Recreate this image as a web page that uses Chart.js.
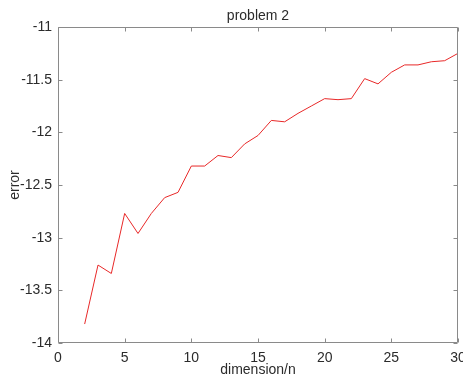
<!DOCTYPE html>
<html>
<head>
<meta charset="utf-8">
<script src="https://cdn.jsdelivr.net/npm/chart.js@4/dist/chart.umd.min.js"></script>
<style>
html,body{margin:0;padding:0;background:#fff;}
#wrap{width:463px;height:379px;position:relative;}
</style>
</head>
<body>
<div id="wrap"><canvas id="c" width="463" height="379"></canvas></div>
<script>
const dimensions = [2,3,4,5,6,7,8,9,10,11,12,13,14,15,16,17,18,19,20,21,22,23,24,25,26,27,28,29,30];
const errors = [-13.82,-13.26,-13.34,-12.77,-12.96,-12.77,-12.62,-12.57,-12.32,-12.32,-12.22,-12.24,-12.11,-12.03,-11.887,-11.90,-11.82,-11.75,-11.68,-11.69,-11.68,-11.49,-11.54,-11.43,-11.36,-11.36,-11.33,-11.32,-11.25];
const xTicks = [0,5,10,15,20,25,30];
const yTicks = [-14,-13.5,-13,-12.5,-12,-11.5,-11];
const yTickLabels = ['-14','-13.5','-13','-12.5','-12','-11.5','-11'];
const titleText = 'problem 2';
const xLabel = 'dimension/n';
const yLabel = 'error';

const AXIS = '#8a8a8a';
const TEXT = '#2b2b2b';
const FONT = "'Liberation Sans', Arial, Helvetica, sans-serif";

const boxPlugin = {
  id: 'box',
  afterDatasetsDraw(chart) {
    const {ctx, chartArea: a, scales: {x, y}} = chart;
    ctx.save();
    ctx.strokeStyle = AXIS;
    ctx.lineWidth = 1;
    ctx.beginPath();
    const L = Math.round(a.left) + 0.5, R = Math.round(a.right) - 0.5;
    const T = Math.round(a.top) + 0.5, B = Math.round(a.bottom) - 0.5;
    ctx.rect(L, T, R - L, B - T);
    const tl = 4;
    xTicks.forEach(v => {
      const px = Math.round(x.getPixelForValue(v)) + 0.5;
      ctx.moveTo(px, B); ctx.lineTo(px, B - tl);
      ctx.moveTo(px, T); ctx.lineTo(px, T + tl);
    });
    yTicks.forEach(v => {
      const py = Math.round(y.getPixelForValue(v)) + 0.5;
      ctx.moveTo(L, py); ctx.lineTo(L + tl, py);
      ctx.moveTo(R, py); ctx.lineTo(R - tl, py);
    });
    ctx.stroke();
    ctx.restore();
  }
};

new Chart(document.getElementById('c'), {
  type: 'line',
  data: {
    datasets: [{
      data: dimensions.map((d, i) => ({x: d, y: errors[i]})),
      borderColor: 'rgb(232,40,40)',
      borderWidth: 1,
      pointRadius: 0,
      tension: 0,
      fill: false
    }]
  },
  options: {
    responsive: false,
    animation: false,
    layout: {padding: {top: 0, right: 5, left: 0, bottom: 0}},
    plugins: {
      legend: {display: false},
      tooltip: {enabled: false},
      title: {
        display: true,
        fullSize: false,
        text: titleText,
        color: TEXT,
        font: {family: FONT, size: 14, weight: 'normal', lineHeight: 1.2},
        padding: {top: 8, bottom: 2.2}
      }
    },
    scales: {
      x: {
        type: 'linear',
        min: 0, max: 30,
        afterBuildTicks: s => { s.ticks = xTicks.map(v => ({value: v})); },
        afterFit: s => { s.height = 36; s.paddingLeft = 0; s.paddingRight = 0; },
        grid: {display: false, drawTicks: false},
        border: {display: false},
        ticks: {color: TEXT, font: {family: FONT, size: 14}, padding: 7, maxRotation: 0,
          callback: v => String(v)},
        title: {display: true, text: xLabel, color: TEXT, font: {family: FONT, size: 14}, padding: {top: 0.6, bottom: 0.6}}
      },
      y: {
        type: 'linear',
        min: -14, max: -11,
        afterBuildTicks: s => { s.ticks = yTicks.map(v => ({value: v})); },
        afterFit: s => { s.width = 58; s.paddingTop = 0; s.paddingBottom = 0; },
        grid: {display: false, drawTicks: false},
        border: {display: false},
        ticks: {color: TEXT, font: {family: FONT, size: 14}, padding: 6,
          callback: v => { const i = yTicks.indexOf(v); return i >= 0 ? yTickLabels[i] : ''; }},
        title: {display: true, text: yLabel, color: TEXT, font: {family: FONT, size: 14}, padding: {top: 6.6, bottom: 6.6}}
      }
    }
  },
  plugins: [boxPlugin]
});
</script>
</body>
</html>
